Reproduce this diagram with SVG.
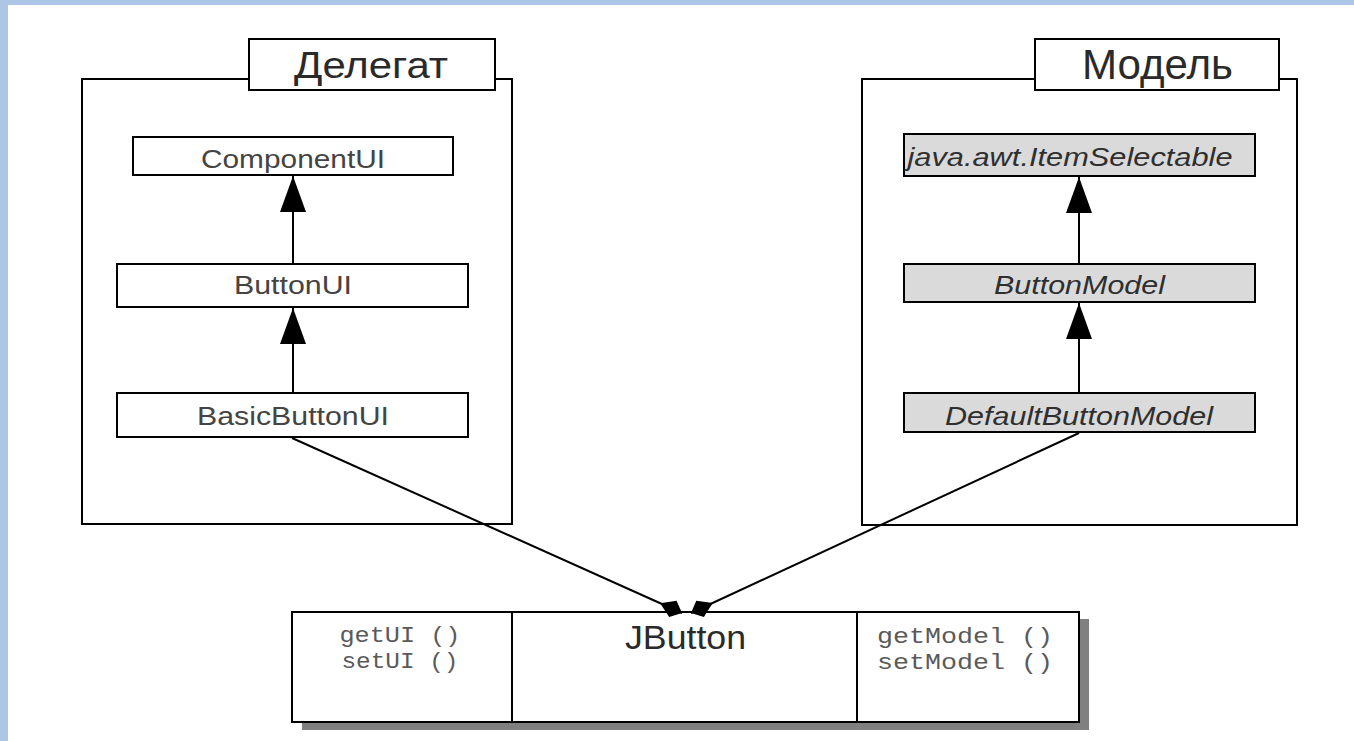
<svg xmlns="http://www.w3.org/2000/svg" width="1354" height="741" viewBox="0 0 1354 741">
<style>
.frame{fill:#fff;stroke:#000;stroke-width:2}
.box{fill:#fff;stroke:#000;stroke-width:2}
.gbox{fill:#dadada;stroke:#000;stroke-width:2}
.title{font-family:"Liberation Sans",Arial,sans-serif;fill:#2a2a2a;text-anchor:middle}
.cls{font-family:"Liberation Sans",Arial,sans-serif;font-size:25px;fill:#444;text-anchor:middle}
.icls{font-family:"Liberation Sans",Arial,sans-serif;font-size:25px;font-style:italic;fill:#2f2f2f;text-anchor:middle}
.mono{font-family:"Liberation Mono","Courier New",monospace;font-size:22px;fill:#5a5a5a;text-anchor:middle}
.conn{stroke:#000;stroke-width:2;fill:none}
</style>
<defs>
<marker id="tri" viewBox="-36 -13 36 26" refX="0" refY="0" markerWidth="36" markerHeight="26" markerUnits="userSpaceOnUse" orient="auto">
<path d="M0,0 L-36,-13 L-36,13 Z" fill="#000"/>
</marker>
<marker id="dia" viewBox="-26 -10 26 20" refX="0" refY="0" markerWidth="26" markerHeight="20" markerUnits="userSpaceOnUse" orient="auto">
<path d="M0,0 L-10,-9 L-24,0 L-10,9 Z" fill="#000"/>
</marker>
</defs>
<rect x="0" y="0" width="1354" height="741" fill="#adc6e5"/>
<rect x="8" y="5" width="1346" height="736" fill="#fff"/>

<g id="delegate">
<rect class="frame" x="82" y="79" width="430" height="445"/>
<rect class="frame" x="249" y="39" width="246" height="51"/>
<text class="title" x="371" y="78" font-size="37" textLength="154" lengthAdjust="spacingAndGlyphs">Делегат</text>
</g>
<g id="model">
<rect class="frame" x="862" y="79" width="435" height="446"/>
<rect class="frame" x="1035" y="39" width="244" height="51"/>
<text class="title" x="1157.5" y="79" font-size="42" textLength="151" lengthAdjust="spacingAndGlyphs">Модель</text>
</g>

<g id="componentui">
<rect class="box" x="133" y="137" width="320" height="38"/>
<text class="cls" x="293" y="168" textLength="184" lengthAdjust="spacingAndGlyphs">ComponentUI</text>
</g>
<g id="buttonui">
<rect class="box" x="117" y="264" width="351" height="43"/>
<text class="cls" x="293" y="294" textLength="118" lengthAdjust="spacingAndGlyphs">ButtonUI</text>
</g>
<g id="basicbuttonui">
<rect class="box" x="117" y="393" width="351" height="44"/>
<text class="cls" x="293" y="425" textLength="192" lengthAdjust="spacingAndGlyphs">BasicButtonUI</text>
</g>

<g id="itemselectable">
<rect class="gbox" x="904" y="134" width="351" height="42"/>
<text class="icls" x="1070" y="166" textLength="325" lengthAdjust="spacingAndGlyphs">java.awt.ItemSelectable</text>
</g>
<g id="buttonmodel">
<rect class="gbox" x="904" y="264" width="351" height="38"/>
<text class="icls" x="1079.5" y="294" textLength="171" lengthAdjust="spacingAndGlyphs">ButtonModel</text>
</g>
<g id="defaultbuttonmodel">
<rect class="gbox" x="904" y="393" width="351" height="39"/>
<text class="icls" x="1079" y="425" textLength="268" lengthAdjust="spacingAndGlyphs">DefaultButtonModel</text>
</g>

<g id="jbutton">
<rect x="302" y="619" width="787" height="111" fill="#808080"/>
<rect class="box" x="292" y="612" width="787" height="110"/>
<line class="conn" x1="512" y1="612" x2="512" y2="722"/>
<line class="conn" x1="857" y1="612" x2="857" y2="722"/>
<text class="title" x="685.5" y="649" font-size="34" fill="#3a3a3a" textLength="121" lengthAdjust="spacingAndGlyphs">JButton</text>
<text class="mono" x="400" y="642" textLength="121" lengthAdjust="spacingAndGlyphs">getUI ()</text>
<text class="mono" x="400" y="668" textLength="117" lengthAdjust="spacingAndGlyphs">setUI ()</text>
<text class="mono" x="965" y="643" textLength="176" lengthAdjust="spacingAndGlyphs">getModel ()</text>
<text class="mono" x="965" y="669" textLength="176" lengthAdjust="spacingAndGlyphs">setModel ()</text>
</g>

<g id="connectors">
<line class="conn" x1="293" y1="264" x2="293" y2="176" marker-end="url(#tri)"/>
<line class="conn" x1="293" y1="393" x2="293" y2="308" marker-end="url(#tri)"/>
<line class="conn" x1="1079" y1="264" x2="1079" y2="177" marker-end="url(#tri)"/>
<line class="conn" x1="1079" y1="393" x2="1079" y2="303" marker-end="url(#tri)"/>
<line class="conn" x1="292" y1="438" x2="682" y2="613" marker-end="url(#dia)"/>
<line class="conn" x1="1079" y1="433" x2="691" y2="613" marker-end="url(#dia)"/>
</g>
</svg>
